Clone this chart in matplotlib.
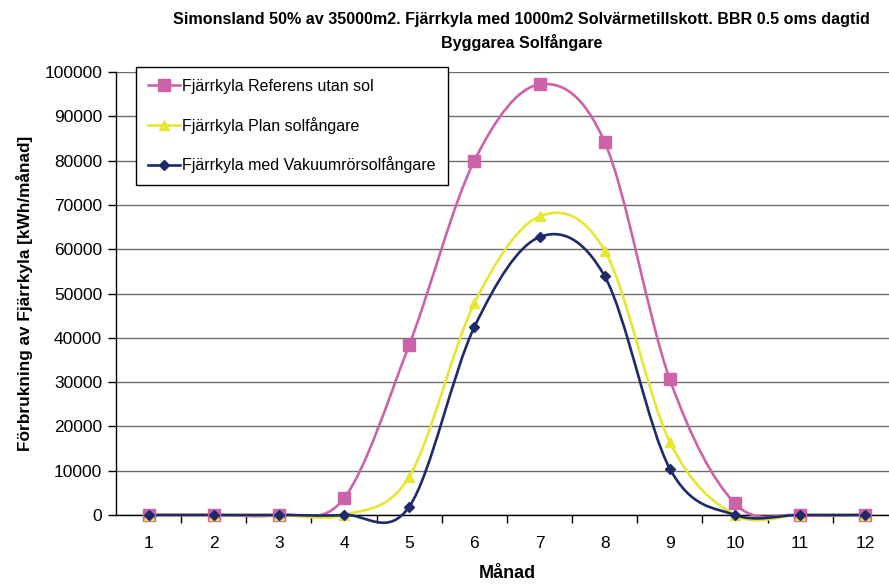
import numpy as np
import matplotlib
matplotlib.use("Agg")
import matplotlib.pyplot as plt
from matplotlib.path import Path
from matplotlib.patches import PathPatch
from matplotlib.lines import Line2D

plt.rcParams['font.family'] = ['Liberation Sans', 'DejaVu Sans']

months = [1, 2, 3, 4, 5, 6, 7, 8, 9, 10, 11, 12]
referens = [0, 0, 0, 3770, 38400, 80000, 97200, 84200, 30600, 2600, 0, 0]
plan = [0, 0, 0, 0, 8650, 47800, 67400, 59700, 16500, 0, 0, 0]
vakuum = [0, 0, 0, 0, 1870, 42450, 62750, 53900, 10450, 0, 0, 0]

series = [
    ("Fjärrkyla Referens utan sol", referens, "#CC62A8", "s", 9),
    ("Fjärrkyla Plan solfångare", plan, "#E6E633", "^", 7.5),
    ("Fjärrkyla med Vakuumrörsolfångare", vakuum, "#1F2A6B", "D", 5.5),
]


def smooth_path(x, y):
    """Cubic Bezier path through the points (Catmull-Rom style smoothing)."""
    pts = np.column_stack([x, y]).astype(float)
    n = len(pts)
    verts = [pts[0]]
    codes = [Path.MOVETO]
    for i in range(n - 1):
        p0 = pts[i - 1] if i > 0 else pts[i]
        p1 = pts[i]
        p2 = pts[i + 1]
        p3 = pts[i + 2] if i + 2 < n else pts[i + 1]
        c1 = p1 + (p2 - p0) / 6.0
        c2 = p2 - (p3 - p1) / 6.0
        verts += [c1, c2, p2]
        codes += [Path.CURVE4] * 3
    return Path(verts, codes)


fig = plt.figure(figsize=(8.89, 5.86), dpi=100)
ax = fig.add_axes([0.1305, 0.1212, 0.8795, 0.7558])

ax.set_xlim(0.5, 12.5)
ax.set_ylim(0, 100000)
ax.set_yticks(np.arange(0, 100001, 10000))
ax.set_xticks(months)
ax.set_xticks(np.arange(1.5, 12.5, 1.0), minor=True)
ax.tick_params(axis='x', which='major', length=0, labelsize=12.5, pad=15)
ax.tick_params(axis='x', which='minor', length=6, width=1, direction='out')
ax.tick_params(axis='y', length=6, width=1, direction='out', labelsize=12.5, pad=4)
ax.grid(axis='y', color='#6E6E6E', linewidth=1.0)
ax.set_axisbelow(True)
for s in ['top', 'right']:
    ax.spines[s].set_visible(False)
for s in ['left', 'bottom']:
    ax.spines[s].set_color('black')
    ax.spines[s].set_linewidth(1.0)

handles = []
for name, vals, col, mk, ms in series:
    patch = PathPatch(smooth_path(months, vals), facecolor='none', edgecolor=col,
                      linewidth=1.9, zorder=3, clip_on=False)
    ax.add_patch(patch)
    ax.plot(months, vals, linestyle='none', marker=mk, markersize=ms,
            color=col, markeredgecolor=col, zorder=4, clip_on=False)
    handles.append(Line2D([], [], color=col, linewidth=1.9, marker=mk,
                          markersize=ms, markeredgecolor=col, label=name))

leg = ax.legend(handles=handles, loc='upper left', bbox_to_anchor=(0.0256, 1.0113),
                borderaxespad=0, fontsize=11.5, frameon=True, fancybox=False,
                edgecolor='black', framealpha=1, handlelength=2.0,
                handletextpad=0.15, labelspacing=1.42, borderpad=0.75)
leg.get_frame().set_linewidth(1.0)

ax.set_xlabel("Månad", fontsize=13, fontweight='bold', labelpad=10)
ax.set_ylabel("Förbrukning av Fjärrkyla [kWh/månad]", fontsize=12.4,
              fontweight='bold', labelpad=8)

fig.text(0.587, 0.966, "Simonsland 50% av 35000m2. Fjärrkyla med 1000m2 Solvärmetillskott. BBR 0.5 oms dagtid",
         ha='center', va='center', fontsize=11.6, fontweight='bold')
fig.text(0.587, 0.928, "Byggarea Solfångare", ha='center', va='center',
         fontsize=11.6, fontweight='bold')

fig.savefig("out.png", dpi=100, facecolor='white')
